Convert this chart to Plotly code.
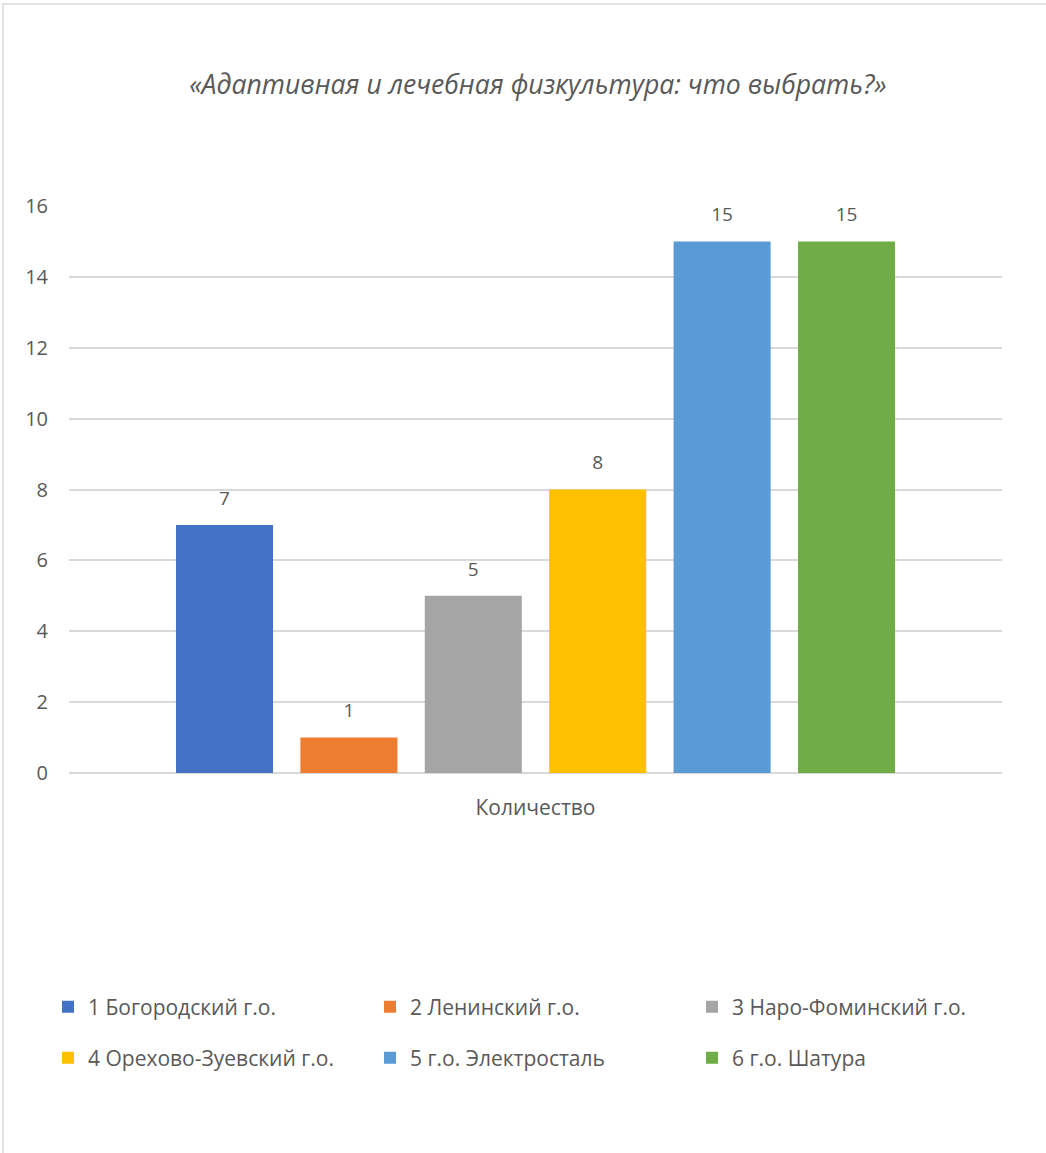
import plotly.graph_objects as go

categories = ["Количество"]
series_names = [
    "1 Богородский г.о.",
    "2 Ленинский г.о.",
    "3 Наро-Фоминский г.о.",
    "4 Орехово-Зуевский г.о.",
    "5 г.о. Электросталь",
    "6 г.о. Шатура",
]
series_values = [7, 1, 5, 8, 15, 15]
colors = ["#4472C4", "#ED7D31", "#A5A5A5", "#FFC000", "#5B9BD5", "#70AD47"]
y_ticks = [0, 2, 4, 6, 8, 10, 12, 14, 16]

FONT = "Open Sans"
GRAY = "#595959"

fig = go.Figure()
for i, (name, val, col) in enumerate(zip(series_names, series_values, colors)):
    fig.add_trace(go.Bar(
        x=categories, y=[val], name=name,
        marker=dict(color=col, line=dict(width=0)),
        text=[val],
        texttemplate="<span style='font-size:19px'>%{text}</span><br> ",
        textposition="outside", cliponaxis=False,
        textfont=dict(size=11, color=GRAY, family=FONT),
        legend="legend" if i < 3 else "legend2",
    ))

W, H = 1046, 1153
L, R, T, B = 69, 44, 206, 380
pw = W - L - R
ph = H - T - B

def px(x):
    return (x - L) / pw

def py(y):
    return (H - B - y) / ph

fig.update_layout(
    width=W, height=H,
    margin=dict(l=L, r=R, t=T, b=B),
    paper_bgcolor="white", plot_bgcolor="white",
    barmode="group", bargap=0.2, bargroupgap=0.22,
    font=dict(family=FONT, color=GRAY, size=19),
    title=dict(
        text="<i>«Адаптивная и лечебная физкультура: что выбрать?»</i>",
        x=px(538), xanchor="center", xref="paper",
        y=1 - 85 / H, yanchor="middle", yref="container",
        font=dict(size=26.6, color=GRAY, family=FONT),
    ),
    xaxis=dict(
        range=[-0.5, 0.5], showgrid=False, showline=False, zeroline=False,
        tickfont=dict(size=21, color=GRAY), ticklabelstandoff=20,
    ),
    yaxis=dict(
        range=[0, 16], tickvals=y_ticks, showgrid=True, gridcolor="#D9D9D9",
        gridwidth=1.5, zeroline=True, zerolinecolor="#D9D9D9", zerolinewidth=1.5,
        showline=False, tickfont=dict(size=20, color=GRAY), ticklabelstandoff=20,
    ),
    legend=dict(
        orientation="h", x=px(48), xanchor="left", y=py(1007), yanchor="middle",
        entrywidth=277, font=dict(size=21, color=GRAY), traceorder="normal",
    ),
    legend2=dict(
        orientation="h", x=px(48), xanchor="left", y=py(1058), yanchor="middle",
        entrywidth=277, font=dict(size=21, color=GRAY), traceorder="normal",
    ),
    shapes=[dict(
        type="rect", xref="paper", yref="paper",
        x0=px(3), x1=px(1060), y0=py(4), y1=py(1170),
        line=dict(color="#D9D9D9", width=1.5), fillcolor="rgba(0,0,0,0)", layer="below",
    )],
)

fig.write_html("out.html", config={"displayModeBar": False},
               post_script="document.body.style.margin='0';")
